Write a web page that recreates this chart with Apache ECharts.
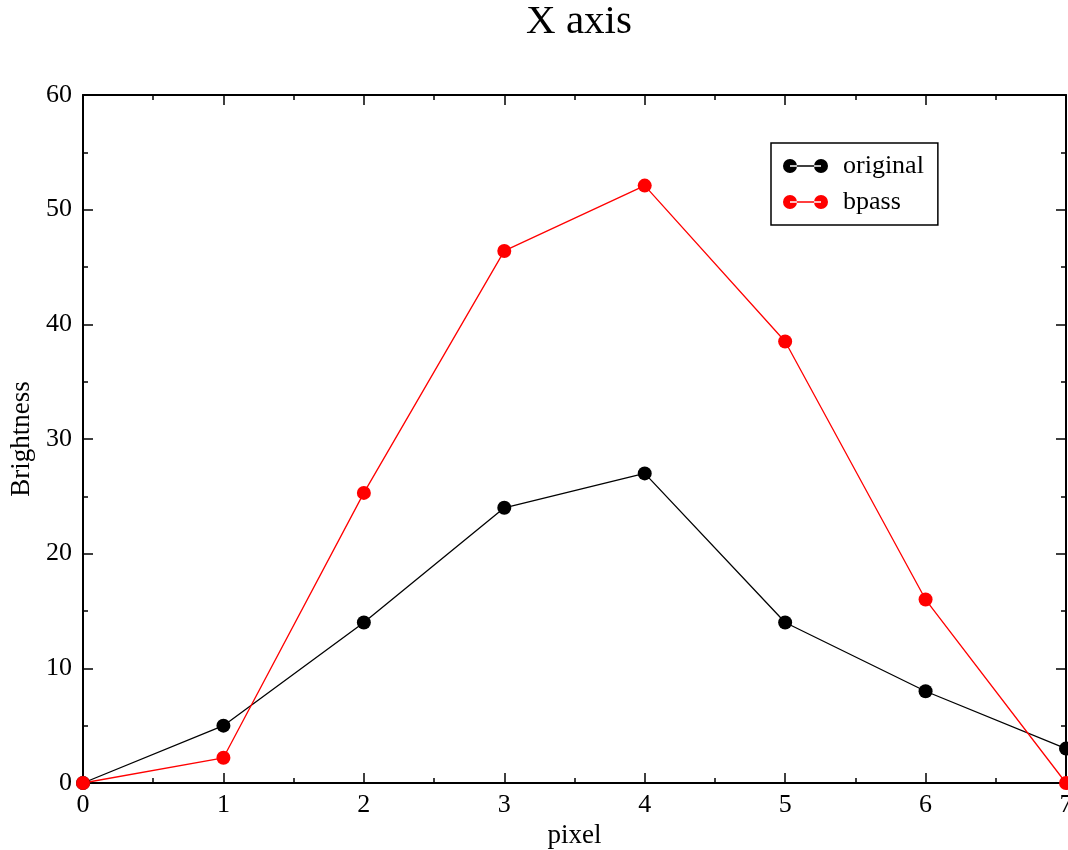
<!DOCTYPE html>
<html>
<head>
<meta charset="utf-8">
<script src="https://cdn.jsdelivr.net/npm/echarts@6/dist/echarts.min.js"></script>
<style>
  html, body { margin: 0; padding: 0; background: #fff; }
  #main { width: 1068px; height: 850px; }
</style>
</head>
<body>
<div id="main"></div>
<script>
var pixels = [0, 1, 2, 3, 4, 5, 6, 7];
var original = [0, 5, 14, 24, 27, 14, 8, 3];
var bpass = [0, 2.2, 25.3, 46.4, 52.1, 38.5, 16.0, 0];

var font = "'Liberation Serif', 'DejaVu Serif', serif";

// legend icon: dot - line - dot
var dotLineDot = 'path://M0,7a7,7 0 1,0 14,0a7,7 0 1,0 -14,0Z' +
  'M31,7a7,7 0 1,0 14,0a7,7 0 1,0 -14,0Z' +
  'M7,6.3L38,6.3L38,7.7L7,7.7Z';

function pairs(ys) {
  var out = [];
  for (var i = 0; i < ys.length; i++) {
    out.push([pixels[i], ys[i]]);
  }
  return out;
}

var axisCommon = {
  type: 'value',
  axisLine: { show: true, onZero: false, lineStyle: { color: '#000', width: 2 } },
  axisTick: { show: true, inside: true, length: 10, lineStyle: { color: '#000', width: 1.5 } },
  minorTick: { show: true, splitNumber: 2, length: 5, lineStyle: { color: '#000', width: 1.5 } },
  splitLine: { show: false }
};

var chart = echarts.init(document.getElementById('main'));
chart.setOption({
  backgroundColor: '#fff',
  animation: false,
  title: {
    text: 'X axis',
    left: 574,
    textAlign: 'center',
    top: -3,
    textStyle: { fontFamily: font, fontSize: 41, fontWeight: 'normal', color: '#000' }
  },
  grid: { left: 83, top: 95, right: 2, bottom: 67, containLabel: false, outerBoundsMode: 'none' },
  legend: {
    orient: 'vertical',
    left: 771,
    top: 143,
    padding: [10, 14, 10, 12],
    itemGap: 10,
    itemWidth: 45,
    itemHeight: 14,
    borderColor: '#000',
    borderWidth: 1.5,
    backgroundColor: '#fff',
    textStyle: { fontFamily: font, fontSize: 26, color: '#000', padding: [0, 0, 0, 10] },
    data: [
      { name: 'original', icon: dotLineDot },
      { name: 'bpass', icon: dotLineDot }
    ]
  },
  xAxis: [
    Object.assign({}, axisCommon, {
      min: 0, max: 7, interval: 1,
      position: 'bottom',
      name: 'pixel',
      nameLocation: 'middle',
      nameGap: 37,
      nameTextStyle: { fontFamily: font, fontSize: 27, color: '#000' },
      axisLabel: { fontFamily: font, fontSize: 26, color: '#000', margin: 9 }
    }),
    Object.assign({}, axisCommon, {
      min: 0, max: 7, interval: 1,
      position: 'top',
      axisLabel: { show: false }
    })
  ],
  yAxis: [
    Object.assign({}, axisCommon, {
      min: 0, max: 60, interval: 10,
      position: 'left',
      name: 'Brightness',
      nameLocation: 'middle',
      nameGap: 47,
      nameTextStyle: { fontFamily: font, fontSize: 27, color: '#000' },
      axisLabel: { fontFamily: font, fontSize: 26, color: '#000', margin: 11 }
    }),
    Object.assign({}, axisCommon, {
      min: 0, max: 60, interval: 10,
      position: 'right',
      axisLabel: { show: false }
    })
  ],
  series: [
    {
      name: 'original',
      type: 'line',
      data: pairs(original),
      symbol: 'circle',
      symbolSize: 14,
      color: '#000',
      lineStyle: { color: '#000', width: 1.3 },
      clip: false
    },
    {
      name: 'bpass',
      type: 'line',
      data: pairs(bpass),
      symbol: 'circle',
      symbolSize: 14,
      color: '#ff0000',
      lineStyle: { color: '#ff0000', width: 1.3 },
      clip: false
    }
  ]
});
</script>
</body>
</html>
